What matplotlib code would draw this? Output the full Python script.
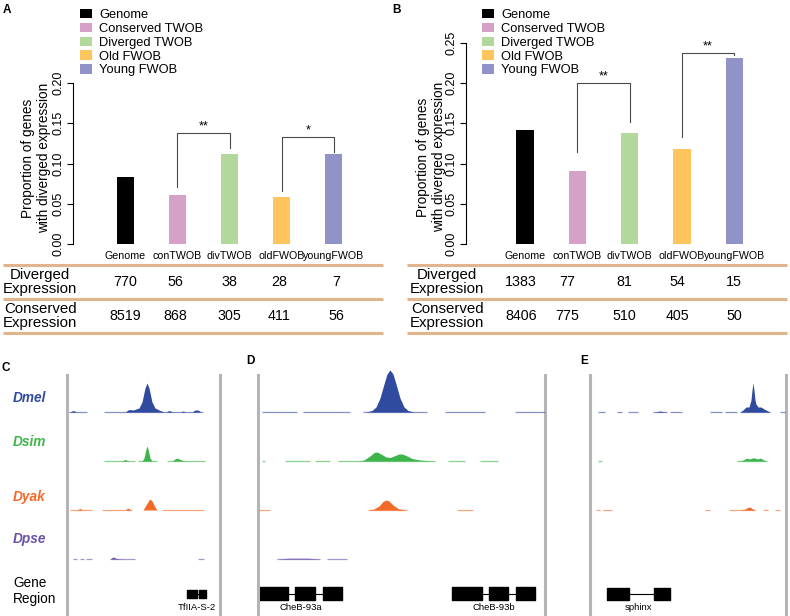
import matplotlib
matplotlib.use('Agg')
import matplotlib.pyplot as plt
from matplotlib.patches import Patch

W, H = 790, 616
plt.rcParams['font.family'] = ['Liberation Sans', 'DejaVu Sans']

# ---- data: panels A / B ----
categories = ['Genome', 'conTWOB', 'divTWOB', 'oldFWOB', 'youngFWOB']
legend_labels = ['Genome', 'Conserved TWOB', 'Diverged TWOB', 'Old FWOB', 'Young FWOB']
bar_colors = ['#000000', '#D5A1C9', '#B2D89B', '#FEC55E', '#9192C8']
prop_a = [0.083, 0.061, 0.112, 0.058, 0.112]
prop_b = [0.142, 0.091, 0.138, 0.118, 0.231]
diverged_a = [770, 56, 38, 28, 7]
conserved_a = [8519, 868, 305, 411, 56]
diverged_b = [1383, 77, 81, 54, 15]
conserved_b = [8406, 775, 510, 405, 50]
# (left bar, right bar, top, left leg end, right leg end, mark)
brackets_a = [(1, 2, 0.138, 0.071, 0.119, '**'), (3, 4, 0.133, 0.066, 0.114, '*')]
brackets_b = [(1, 2, 0.200, 0.114, 0.152, '**'), (3, 4, 0.237, 0.133, 0.235, '**')]

# ---- data: panels C / D / E (coverage tracks) ----
species = ['Dmel', 'Dsim', 'Dyak', 'Dpse']
sp_colors = ['#2F4A9E', '#3DB54A', '#F26A28', '#6A52A8']

c_segments = {
    'Dmel': [(2, 20), (37, 136)],
    'Dsim': [(37, 68), (71, 90), (100, 138)],
    'Dyak': [(3, 25), (35, 65), (95, 137)],
    'Dpse': [(6, 10), (13, 17), (19, 25), (43, 68), (131, 137)],
}
c_peaks = {
    'Dmel': [[(3, 0), (6, 1.5), (10, 0)],
             [(58, 0), (62, 2.5), (66, 2), (72, 4), (75, 10), (78, 24), (80, 29), (82, 24),
              (85, 10), (88, 4), (92, 2), (97, 0)],
             [(99, 0), (102, 1.5), (106, 0)], [(113, 0), (116, 1), (119, 0)],
             [(125, 0), (128, 2), (131, 2), (134, 0)]],
    'Dsim': [[(55, 0), (58, 1.5), (62, 0)],
             [(75, 0), (77, 3), (79, 12), (80, 15), (81, 12), (83, 3), (85, 0)],
             [(105, 0), (108, 2), (110, 3), (112, 2), (116, 0.5), (120, 0)]],
    'Dyak': [[(10, 0), (13, 1.5), (16, 0)], [(58, 0), (61, 2), (64, 0)],
             [(76, 0), (79, 5), (82, 10), (83, 11), (85, 9), (88, 3), (90, 0)]],
    'Dpse': [[(43, 0), (46, 2), (50, 0.5), (56, 0)]],
}
c_genes = [('TfIIA-S-2', [(120, 130), (132, 139)])]

d_segments = {
    'Dmel': [(4, 39), (45, 92), (105, 169), (187, 227), (257, 287)],
    'Dsim': [(4, 7), (27, 52), (57, 72), (80, 177), (190, 207), (222, 240)],
    'Dyak': [(1, 12), (110, 149), (199, 215)],
    'Dpse': [(19, 62), (69, 89)],
}
d_peaks = {
    'Dmel': [[(108, 0), (114, 1.5), (118, 5), (122, 14), (126, 28), (129, 38), (132, 42),
              (135, 38), (138, 28), (142, 14), (146, 5), (150, 1.5), (156, 0)]],
    'Dsim': [[(100, 0), (106, 1), (112, 5), (116, 8.5), (119, 9), (122, 7.5), (128, 4),
              (132, 3.5), (136, 5), (141, 7), (144, 7), (148, 5.5), (154, 2.5), (162, 1),
              (172, 0.3), (177, 0)]],
    'Dyak': [[(110, 0), (116, 1), (121, 4), (125, 8.5), (128, 10), (131, 9), (135, 5),
              (140, 1.5), (145, 0.5), (149, 0)]],
    'Dpse': [[(19, 0), (30, 0.8), (50, 0.8), (62, 0)]],
}
d_genes = [('CheB-93a', [(2, 30), (37, 57), (65, 84)]),
           ('CheB-93b', [(194, 224), (231, 250), (258, 277)])]

e_segments = {
    'Dmel': [(8, 15), (27, 32), (38, 48), (63, 77), (80, 92), (120, 132), (135, 147),
             (150, 180), (190, 195)],
    'Dsim': [(8, 12), (147, 177)],
    'Dyak': [(6, 10), (13, 22), (115, 120), (139, 165), (173, 178), (185, 190)],
    'Dpse': [],
}
e_peaks = {
    'Dmel': [[(65, 0), (70, 1), (76, 0)],
             [(150, 0), (153, 2), (156, 5), (159, 5), (161, 12), (162, 22), (163, 29),
              (164, 22), (165, 12), (166, 8), (168, 5), (171, 5), (174, 3), (177, 1.5), (180, 0)]],
    'Dsim': [[(147, 0), (152, 0.5), (155, 2), (157, 3), (159, 2), (161, 2.5), (164, 3.3),
              (166, 2.5), (168, 2), (170, 3), (172, 2), (175, 0.5), (177, 0)]],
    'Dyak': [[(150, 0), (155, 1), (158, 2.5), (160, 3), (162, 1.5), (165, 0)]],
    'Dpse': [],
}
e_genes = [('sphinx', [(17, 39), (64, 80)])]

# ---- layout helpers (pixel based) ----
fig = plt.figure(figsize=(W / 100, H / 100), dpi=100)


def add_ax(l, t, w, h):
    return fig.add_axes([l / W, 1 - (t + h) / H, w / W, h / H])


def fx(x):
    return x / W


def fy(y):
    return 1 - y / H


SCALE = 805.0  # px per proportion unit
ZERO_Y = 244
LINE_COL = '#E0B48C'


def bar_panel(left, width, xlim, props, brackets, top_tick, legend_x):
    ax = add_ax(left, 30, width, ZERO_Y - 30)
    ax.set_xlim(*xlim)
    ax.set_ylim(0, (ZERO_Y - 30) / SCALE)
    ax.bar(range(len(categories)), props, width=0.33, color=bar_colors)
    for sp in ['top', 'right', 'bottom']:
        ax.spines[sp].set_visible(False)
    ax.spines['left'].set_bounds(0, top_tick)
    ax.spines['left'].set_linewidth(0.8)
    ticks = [i * 0.05 for i in range(int(round(top_tick / 0.05)) + 1)]
    ax.set_yticks(ticks, ['%.2f' % t for t in ticks])
    ax.tick_params(axis='y', labelrotation=90, length=4, width=0.8, pad=2, labelsize=9)
    for lab in ax.get_yticklabels():
        lab.set_va('center')
    ax.set_xticks(range(len(categories)), categories)
    ax.tick_params(axis='x', length=0, pad=5, labelsize=7.7)
    for l0, l1, top, e0, e1, mark in brackets:
        ax.plot([l0, l0, l1, l1], [e0, top, top, e1], color='#4A4A4A', lw=0.8)
        ax.text((l0 + l1) / 2, top + 0.001, mark, ha='center', va='bottom', fontsize=9)
    handles = [Patch(facecolor=c, edgecolor='none') for c in bar_colors]
    ax.legend(handles, legend_labels, loc='upper left',
              bbox_to_anchor=(fx(legend_x), fy(9)), bbox_transform=fig.transFigure,
              frameon=False, fontsize=9.3, handlelength=0.95, handleheight=0.75,
              handletextpad=0.55, labelspacing=0.12, borderpad=0, borderaxespad=0)
    return ax


def table_panel(left, width, xlim, line_span, label_x, label_ha, cols, row1, row2):
    ax = add_ax(left, 265, width, 68)
    ax.set_xlim(*xlim)
    ax.set_ylim(2, 0)
    ax.axis('off')
    ax.hlines([0, 1, 2], line_span[0], line_span[1], color=LINE_COL, lw=2.2, clip_on=False)
    ax.text(label_x, 0.5, 'Diverged\nExpression', ha=label_ha, va='center',
            fontsize=10.8, linespacing=0.92, multialignment='center')
    ax.text(label_x, 1.5, 'Conserved\nExpression', ha=label_ha, va='center',
            fontsize=10.8, linespacing=0.92, multialignment='center')
    for x, v1, v2 in zip(cols, row1, row2):
        ax.text(x, 0.5, str(v1), ha='center', va='center', fontsize=10.3)
        ax.text(x, 1.5, str(v2), ha='center', va='center', fontsize=10.3)


# panel A
bar_panel(73, 313, (-1, 5), prop_a, brackets_a, 0.20, 80)
table_panel(73, 313, (-1, 5), (-2.34, 4.94), -1.63, 'center',
            [0, 0.96, 2.0, 2.95, 4.04], diverged_a, conserved_a)
fig.text(fx(36), fy(158), 'Proportion of genes\nwith diverged expression', rotation=90,
         ha='center', va='center', multialignment='center', fontsize=9.8, linespacing=1.25)

# panel B
bar_panel(466, 321, (-1.13, 5.01), prop_b, brackets_b, 0.25, 482)
table_panel(466, 321, (-1.13, 5.01), (-2.26, 5.01), -2.2, 'left',
            [-0.08, 0.8, 1.9, 2.91, 4.0], diverged_b, conserved_b)
fig.text(fx(431), fy(157), 'Proportion of genes\nwith diverged expression', rotation=90,
         ha='center', va='center', multialignment='center', fontsize=9.8, linespacing=1.25)

# ---- panels C / D / E ----
TOP, BOT = 360, 616
baselines = [616 - 412, 616 - 461, 616 - 510, 616 - 559]
GENE_Y = 616 - 593.5
GENE_LABEL_Y = 616 - 608


def track_panel(left, right, segments, peaks, genes, exon_h):
    width = right - left
    ax = add_ax(left, TOP, width, BOT - TOP)
    ax.set_xlim(0, width)
    ax.set_ylim(0, BOT - TOP)
    ax.axis('off')
    for x in (0, width):
        ax.axvline(x, ymin=(616 - 614) / (BOT - TOP), ymax=(616 - 375) / (BOT - TOP),
                   color='#B5B5B5', lw=2.2, clip_on=False)
    for sp, col, base in zip(species, sp_colors, baselines):
        for s, e in segments[sp]:
            ax.hlines(base, s, e, color=col, lw=0.9, alpha=0.6)
        for pk in peaks[sp]:
            xs = [p[0] for p in pk]
            hs = [base + p[1] for p in pk]
            ax.fill_between(xs, base, hs, color=col, lw=0)
    for name, exons in genes:
        g0, g1 = exons[0][0], exons[-1][1]
        ax.hlines(GENE_Y, g0, g1, color='black', lw=0.8)
        ax.broken_barh([(s, e - s) for s, e in exons], (GENE_Y - exon_h / 2, exon_h),
                       color='black')
        ax.text((g0 + g1) / 2, GENE_LABEL_Y, name, ha='center', va='center', fontsize=6.8)
    return ax


track_panel(67, 220, c_segments, c_peaks, c_genes, 8)
track_panel(258, 545, d_segments, d_peaks, d_genes, 13)
track_panel(590, 786, e_segments, e_peaks, e_genes, 12)

label_y = [398, 442, 497, 539]
for sp, col, y in zip(species, sp_colors, label_y):
    fig.text(fx(13), fy(y), sp, color=col, fontsize=9.8, fontweight='bold',
             fontstyle='italic', ha='left', va='center')
fig.text(fx(13), fy(591), 'Gene\nRegion', fontsize=9.8, ha='left', va='center', linespacing=1.15)

# panel letters
for letter, x, y in [('A', 3, 10), ('B', 392, 10), ('C', 2, 368), ('D', 246, 361), ('E', 580, 361)]:
    fig.text(fx(x), fy(y), letter, fontsize=8.5, fontweight='bold', ha='left', va='center')

fig.savefig('out.png', dpi=100)
